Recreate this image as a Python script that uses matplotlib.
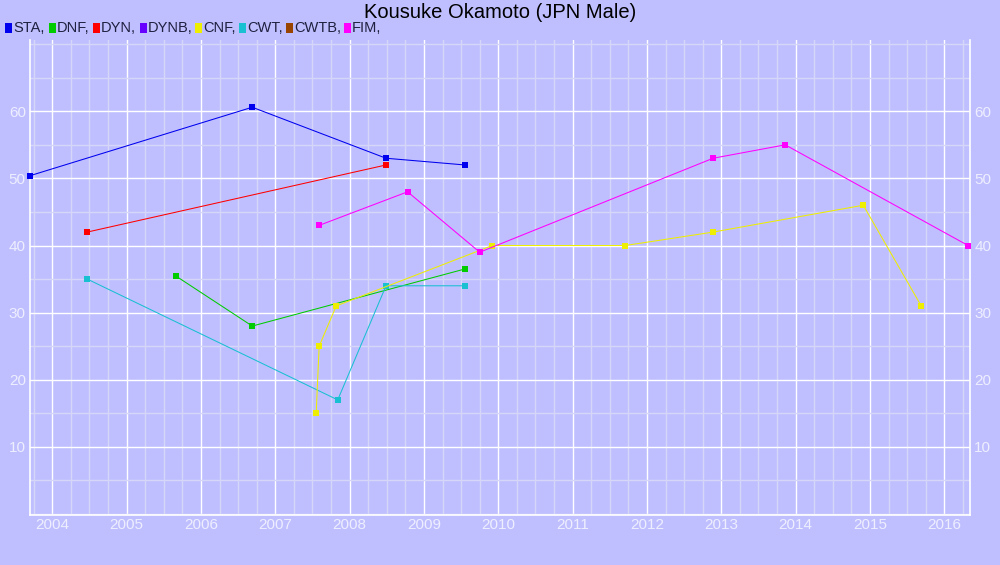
import matplotlib
matplotlib.use("Agg")
import matplotlib.pyplot as plt
from matplotlib.ticker import MultipleLocator

plt.rcParams['font.family'] = ['Liberation Sans', 'DejaVu Sans']

title = "Kousuke Okamoto (JPN Male)"
legend_names = ["STA", "DNF", "DYN", "DYNB", "CNF", "CWT", "CWTB", "FIM"]
legend_colors = ["#0000EE", "#00CC00", "#FF0000", "#6600FF", "#EEEE00", "#19C0D2", "#994400", "#FF00FF"]

sta_x = [2003.70, 2006.69, 2008.49, 2009.55]
sta_y = [50.4, 60.6, 53, 52]
dnf_x = [2005.67, 2006.69, 2009.55]
dnf_y = [35.4, 28, 36.5]
dyn_x = [2004.47, 2008.49]
dyn_y = [42, 52]
cnf_x = [2007.55, 2007.59, 2007.82, 2009.92, 2011.71, 2012.89, 2014.91, 2015.69]
cnf_y = [15, 25, 31, 40, 40, 42, 46, 31]
cwt_x = [2004.47, 2007.84, 2008.49, 2009.55]
cwt_y = [35, 17, 34, 34]
fim_x = [2007.59, 2008.78, 2009.75, 2012.89, 2013.86, 2016.32]
fim_y = [43, 48, 39, 53, 55, 40]

series = [
    ("STA", sta_x, sta_y),
    ("DNF", dnf_x, dnf_y),
    ("DYN", dyn_x, dyn_y),
    ("CWT", cwt_x, cwt_y),
    ("CNF", cnf_x, cnf_y),
    ("FIM", fim_x, fim_y),
]
year_ticks = list(range(2004, 2017))
y_ticks = [10, 20, 30, 40, 50, 60]

bg = "#BFBFFF"
fig = plt.figure(figsize=(10, 5.65), dpi=100, facecolor=bg)
ax = fig.add_axes([0.030, 0.0885, 0.940, 0.8405], facecolor=bg)

color_map = dict(zip(legend_names, legend_colors))
for name, xs, ys in series:
    ax.plot(xs, ys, color=color_map[name], lw=0.75, marker='s', markersize=4.5,
            markeredgewidth=0, clip_on=False, zorder=3)

ax.set_xlim(2003.70, 2016.346)
ax.set_ylim(-0.15, 70.6)
ax.set_xticks(year_ticks)
ax.set_xticklabels([str(y) for y in year_ticks])
ax.xaxis.set_minor_locator(MultipleLocator(0.25))
ax.set_yticks(y_ticks)
ax.yaxis.set_minor_locator(MultipleLocator(5))
ax.grid(which='major', color='white', lw=1.0, zorder=1)
ax.grid(which='minor', color='#D6D6F8', lw=1.0, zorder=0)
ax.set_axisbelow(True)

label_color = "#EEEEFF"
ax.tick_params(axis='both', which='both', length=0, labelsize=11, labelcolor=label_color)
ax.tick_params(axis='x', pad=2)
ax.tick_params(axis='y', pad=3, labelright=True)

for side in ['left', 'right', 'bottom']:
    ax.spines[side].set_color('white')
    ax.spines[side].set_linewidth(1.2)
ax.spines['top'].set_visible(False)

fig.text(0.5, 0.978, title, ha='center', va='center', fontsize=14.5, color='black')

leg_x = [5, 49, 93, 140, 195, 239, 286, 344]
for name, col, px in zip(legend_names, legend_colors, leg_x):
    fig.patches.append(plt.Rectangle((px / 1000, 1 - 33 / 565), 7 / 1000, 10 / 565,
                                     transform=fig.transFigure, facecolor=col,
                                     edgecolor='none'))
    fig.text((px + 8) / 1000, 1 - 27.5 / 565, name + ",", ha='left', va='center',
             fontsize=10.5, color='#202040')

fig.savefig("out.png", dpi=100, facecolor=bg)
